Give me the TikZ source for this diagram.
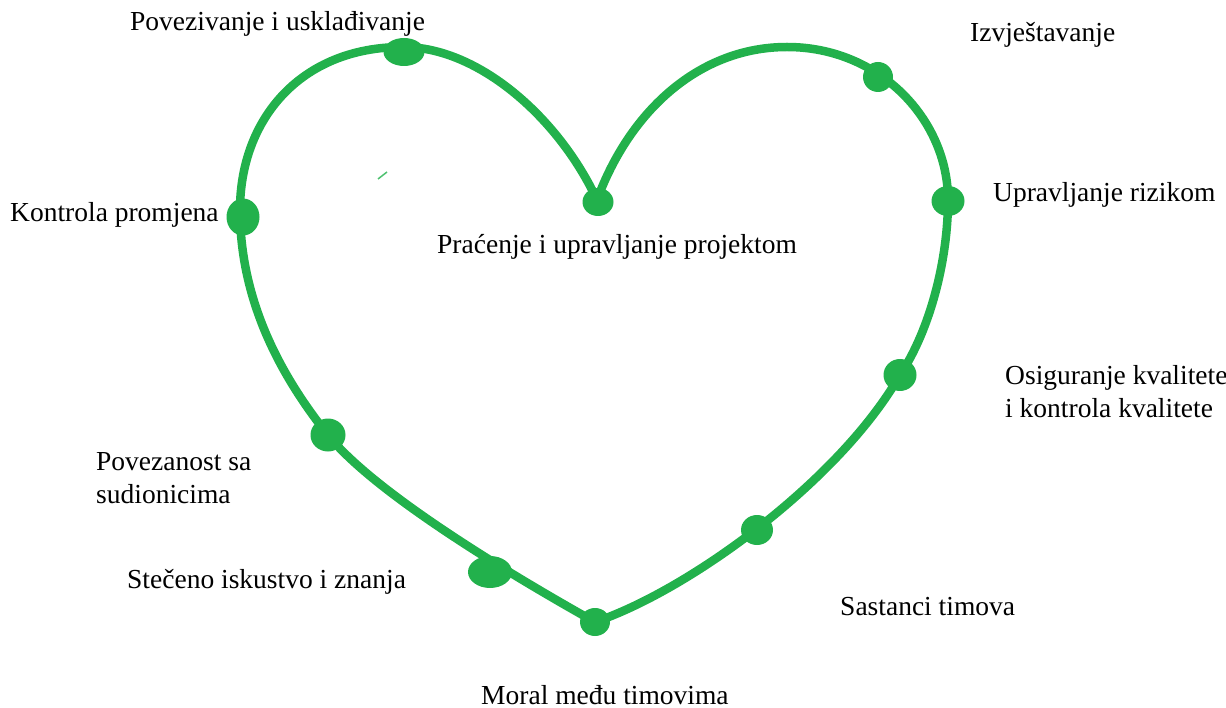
\documentclass[tikz,border=0pt]{standalone}
\usepackage{fontspec}
\setmainfont{Liberation Serif}
\usepackage{tikz}
\usetikzlibrary{shapes.geometric}
\definecolor{srcegreen}{RGB}{34,177,76}

\begin{document}
\begin{tikzpicture}[x=1pt,y=-1pt]
\tikzstyle{dot}=[draw=none,fill=srcegreen,shape=ellipse,inner sep=0pt];
\tikzstyle{label}=[inner sep=0pt,anchor=west,align=left,font=\fontsize{27.5}{33}\selectfont];
\useasboundingbox (0,0) rectangle (1226,708);

% heart
\draw[srcegreen,line width=8.5pt,line join=round]
	(597,200) .. controls (560,120) and (480,47) .. (403,47)
	.. controls (300,47) and (240,120) .. (240,210)
	.. controls (240,300) and (280,375) .. (328,435)
	.. controls (376,495) and (520,580) .. (595,622)
	.. controls (690,590) and (840,480) .. (900,375)
	.. controls (930,330) and (948,260) .. (948,200)
	.. controls (948,120) and (880,47) .. (787,47)
	.. controls (700,47) and (630,110) .. (597,200);
\draw[srcegreen!80,line width=1.5pt] (378,179) -- (387,172);

% dots
\node[dot,minimum width=41pt,minimum height=28pt] (uskl) at (404,52) {};
\node[dot,minimum width=30pt,minimum height=30pt] (izvj) at (878,77) {};
\node[dot,minimum width=33pt,minimum height=30pt] (rizik) at (948,201) {};
\node[dot,minimum width=33pt,minimum height=37pt] (promj) at (243,217) {};
\node[dot,minimum width=31pt,minimum height=28pt] (proj) at (598,202) {};
\node[dot,minimum width=33pt,minimum height=32pt] (kval) at (900,375) {};
\node[dot,minimum width=35pt,minimum height=33pt] (sud) at (328,435) {};
\node[dot,minimum width=44pt,minimum height=32pt] (isk) at (490,572) {};
\node[dot,minimum width=32pt,minimum height=30pt] (sast) at (757,530) {};
\node[dot,minimum width=30pt,minimum height=28pt] (moral) at (595,622) {};

% labels
\node[label] (tuskl) at (130,24) {Povezivanje i usklađivanje};
\node[label] (tizvj) at (970,35) {Izvještavanje};
\node[label] (trizik) at (993,195) {Upravljanje rizikom};
\node[label] (tpromj) at (10,215) {Kontrola promjena};
\node[label] (tproj) at (437,247) {Praćenje i upravljanje projektom};
\node[label] (tkval) at (1005,392) {Osiguranje kvalitete\\i kontrola kvalitete};
\node[label] (tsud) at (96,478) {Povezanost sa\\sudionicima};
\node[label] (tisk) at (127,582) {Stečeno iskustvo i znanja};
\node[label] (tsast) at (840,607) {Sastanci timova};
\node[label] (tmoral) at (481,695) {Moral među timovima};
\end{tikzpicture}
\end{document}
